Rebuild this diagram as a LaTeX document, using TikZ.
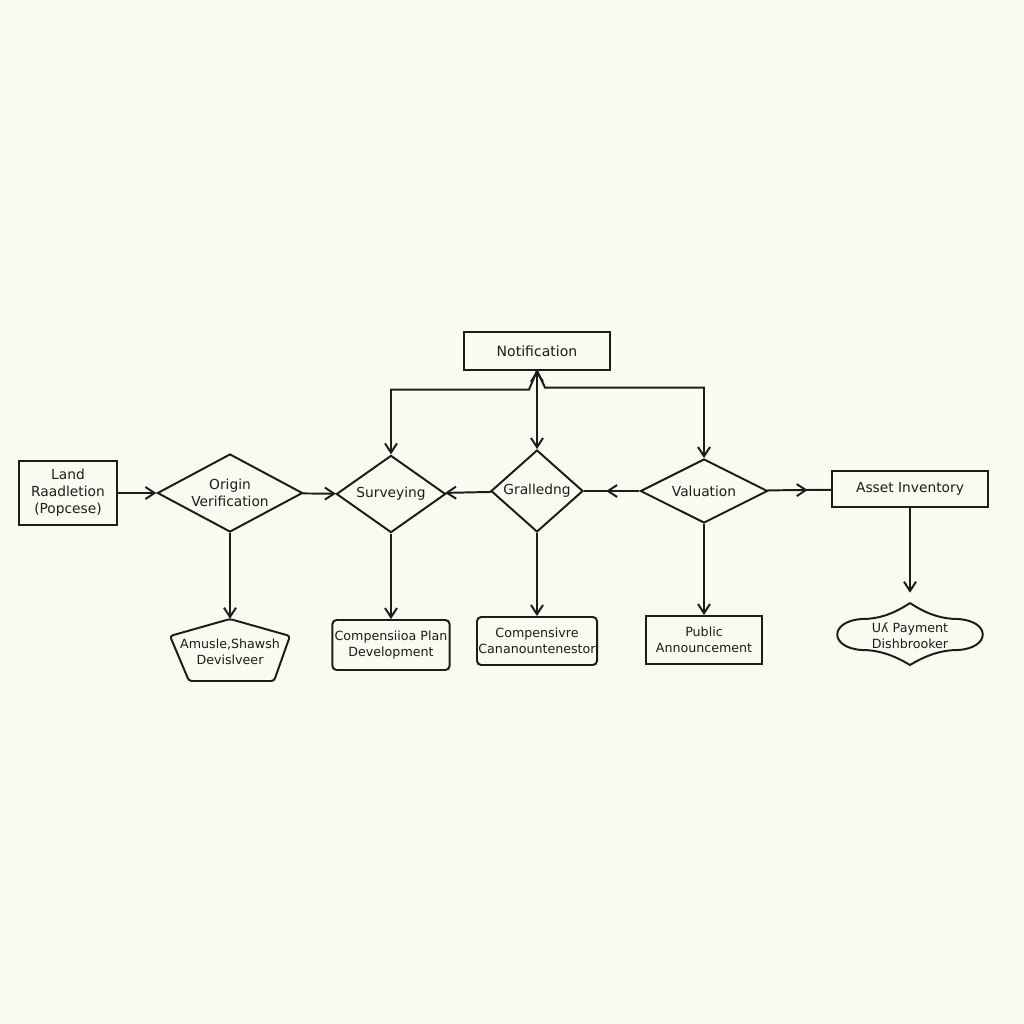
\documentclass[tikz,border=0pt]{standalone}
\usepackage{fontspec}
\setmainfont{DejaVu Sans}
\usetikzlibrary{shapes.geometric, arrows.meta, positioning, decorations.markings}
\definecolor{paper}{RGB}{250,250,241}
\definecolor{ink}{RGB}{28,28,26}

\begin{document}
\begin{tikzpicture}[
    x=0.025cm, y=-0.025cm,
    font=\fontsize{9.8}{12}\selectfont,
    >={Straight Barb[length=2.3mm,width=3mm]},
    % --- styles ---
    proc/.style={draw=ink, line width=1.4pt, align=center, inner sep=1pt, text=ink},
    roundproc/.style={proc, rounded corners=3pt},
    decision/.style={proc, diamond, inner sep=0pt},
    lowtext/.style={font=\fontsize{9}{11.5}\selectfont},
    outline/.style={draw=ink, line width=1.4pt},
    link/.style={->, draw=ink, line width=1.4pt},
    midlink/.style={draw=ink, line width=1.4pt, postaction={decorate},
        decoration={markings, mark=at position #1 with {\arrow{>}}}}
]

% background / page size
\fill[paper] (0,0) rectangle (1024,1024);
\useasboundingbox (0,0) rectangle (1024,1024);

% ===== top =====
\node[proc, minimum width=3.65cm, minimum height=0.93cm, font=\fontsize{10}{12}\selectfont] (notif) at (537,351) {Notification};

% ===== main row =====
\node[proc, minimum width=2.43cm, minimum height=1.58cm] (land) at (68,493) {Land\\Raadletion\\(Popcese)};
\node[decision, shape aspect=1.86, minimum width=3.63cm, minimum height=1.95cm] (orig) at (230,493) {Origin\\Verification};
\node[decision, shape aspect=1.41, minimum width=2.73cm, minimum height=1.93cm] (surv) at (391,494) {Surveying};
\node[decision, shape aspect=1.12, minimum width=2.3cm, minimum height=2.05cm] (grad) at (537,491) {Gralledng};
\node[decision, shape aspect=2, minimum width=3.18cm, minimum height=1.6cm] (valu) at (704,491) {Valuation};
\node[proc, minimum width=3.88cm, minimum height=0.88cm] (asset) at (910,489) {Asset Inventory};

% ===== bottom row =====
\node[align=center, text=ink, lowtext, minimum width=3cm, minimum height=1.65cm] (amus) at (230,652) {Amusle,Shawsh\\Devislveer};
\draw[outline, rounded corners=2pt, shift={(amus.center)}]
    (0,-33) -- (60,-16) -- (44,29) -- (-41,29) -- (-60,-16) -- cycle;

\node[roundproc, lowtext, minimum width=2.93cm, minimum height=1.25cm] (plan) at (391,645) {Compensiioa Plan\\Development};
\node[roundproc, lowtext, minimum width=2.98cm, minimum height=1.2cm] (cana) at (537,641) {Compensivre\\Cananountenestor};
\node[proc, lowtext, minimum width=2.9cm, minimum height=1.2cm] (pub) at (704,640) {Public\\Announcement};

\node[align=center, text=ink, lowtext, minimum width=3.6cm, minimum height=1.55cm] (pay) at (910,636) {Uʎ Payment\\Dishbrooker};
\draw[outline, shift={(pay.center)}]
    (0,-33) .. controls (15,-23) and (30,-17) .. (48,-17)
    .. controls (81,-15) and (81,12) .. (48,14)
    .. controls (30,14) and (15,20) .. (0,29)
    .. controls (-15,20) and (-30,14) .. (-48,14)
    .. controls (-81,12) and (-81,-15) .. (-48,-17)
    .. controls (-30,-17) and (-15,-23) .. (0,-33);

% ===== connectors =====
\draw[link] (land) -- (orig);
\draw[link] (orig) -- (surv);
\draw[link] (grad) -- (surv);
\draw[midlink=0.6] (valu) -- (grad);
\draw[midlink=0.63] (valu) -- (asset);

% from Notification
\draw[link, <->] (notif.south) -- (grad.north);
\draw[link] (notif.south) -- +(-8,19) -| (surv.north);
\draw[link] (notif.south) -- +(8,17) -| (valu.north);

% downwards
\draw[link] (orig.south) -- (amus.north);
\draw[link] (surv.south) -- (plan.north);
\draw[link] (grad.south) -- (cana.north);
\draw[link] (valu.south) -- (pub.north);
\draw[link, shorten >=3mm] (asset.south) -- (pay.north);

\end{tikzpicture}
\end{document}
